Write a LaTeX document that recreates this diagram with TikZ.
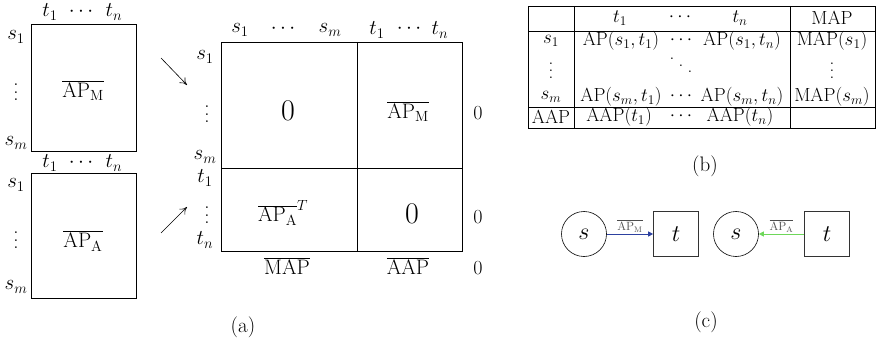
\RequirePackage{fix-cm}
\documentclass[tikz,border=0pt]{standalone}
\usepackage{fontspec}
\usetikzlibrary{arrows.meta}
\newcommand{\fs}[1]{\fontsize{#1}{#1}\selectfont}
\newcommand{\apm}{\overline{\mathrm{AP}_\mathrm{M}}}
\newcommand{\apa}{\overline{\mathrm{AP}_\mathrm{A}}}
\newcommand{\myvdots}{\vbox{\normalbaselines\baselineskip0.38em\lineskiplimit0pt\kern0.3em\hbox{.}\hbox{.}\hbox{.}}}
\newcommand{\myddots}{\mathinner{\mkern1mu\raise0.75em\hbox{.}\mkern4mu\raise0.4em\hbox{.}\mkern4mu\raise0.05em\hbox{.}\mkern1mu}}
\tikzset{
  lbl/.style={inner sep=0pt, font=\fs{21}},
  big/.style={inner sep=0pt, font=\fs{30}},
  tbl/.style={inner sep=0pt, font=\fs{19}},
  captext/.style={inner sep=0pt, font={\rmfamily\fs{21}}},
  frame/.style={draw=black, line width=0.8pt},
  tline/.style={draw=black, line width=0.6pt},
}
\begin{document}
\begin{tikzpicture}[x=1pt,y=-1pt]
\useasboundingbox (0,0) rectangle (879,345);
% ---------------- (a) left top box
\draw[frame] (31,24) rectangle (136,151);
\node[lbl] (ta1) at (50,12) {$t_1$};
\node[lbl] (tad) at (81,12) {$\cdots$};
\node[lbl] (tan) at (114,12) {$t_n$};
\node[lbl] (sa1) at (16,37) {$s_1$};
\node[lbl] (sad) at (16,89) {\myvdots};
\node[lbl] (sam) at (16,143) {$s_m$};
\node[lbl] (apmL) at (83,91) {$\apm$};
\node[lbl] (tb1) at (50,163) {$t_1$};
\node[lbl] (tbd) at (81,163) {$\cdots$};
\node[lbl] (tbn) at (114,163) {$t_n$};
% left bottom box
\draw[frame] (31,173) rectangle (136,298);
\node[lbl] (sb1) at (16,185) {$s_1$};
\node[lbl] (sbd) at (16,237) {\myvdots};
\node[lbl] (sbm) at (16,287) {$s_m$};
\node[lbl] (apaL) at (83,241) {$\apa$};
% arrows
\coordinate (a1s) at (161,58);
\coordinate (a1e) at (187,85);
\coordinate (a2s) at (161,233);
\coordinate (a2e) at (187,207);
\draw[-{To[length=7pt,width=8pt]}, line width=0.6pt] (a1s) -- (a1e);
\draw[-{To[length=7pt,width=8pt]}, line width=0.6pt] (a2s) -- (a2e);
% big matrix
\draw[frame] (221,42) rectangle (462,251);
\draw[frame] (357,42) -- (357,251);
\draw[frame] (221,168) -- (462,168);
\node[lbl] (ms1) at (240,30) {$s_1$};
\node[lbl] (msd) at (283,29) {$\cdots$};
\node[lbl] (msm) at (330,30) {$s_m$};
\node[lbl] (mt1) at (377,30) {$t_1$};
\node[lbl] (mtd) at (409,29) {$\cdots$};
\node[lbl] (mtn) at (440,30) {$t_n$};
\node[lbl] (ls1) at (205,57) {$s_1$};
\node[lbl] (lsd) at (207,111) {\myvdots};
\node[lbl] (lsm) at (205,157) {$s_m$};
\node[lbl] (lt1) at (205,178) {$t_1$};
\node[lbl] (ltd) at (207,212) {\myvdots};
\node[lbl] (ltn) at (205,240) {$t_n$};
\node[big] (z1) at (288,111) {$0$};
\node[lbl] (apmB) at (408,112) {$\apm$};
\node[lbl] (apaB) at (283,213) {$\apa^{T}$};
\node[big] (z2) at (412,214) {$0$};
\node[lbl, font=\fs{20}] (r1) at (478,113) {$0$};
\node[lbl, font=\fs{20}] (r2) at (478,217) {$0$};
\node[lbl, font=\fs{20}] (r3) at (478,268) {$0$};
\node[lbl] (mapB) at (287,266) {$\overline{\mathrm{MAP}}$};
\node[lbl] (aapB) at (408,266) {$\overline{\mathrm{AAP}}$};
\node[captext] (capa) at (243,327) {(a)};
% ---------------- (b) table
\draw[tline] (528,6) rectangle (875,128);
\draw[tline] (528,31) -- (875,31);
\draw[tline] (528,107) -- (875,107);
\draw[tline] (574,6) -- (574,128);
\draw[tline] (790,6) -- (790,128);
\node[tbl] (h1) at (620,18) {$t_1$};
\node[tbl] (hd) at (680,17) {$\cdots$};
\node[tbl] (hn) at (740,18) {$t_n$};
\node[tbl] (hm) at (832,18) {MAP};
\node[tbl] (r1c0) at (551,41) {$s_1$};
\node[tbl] (r1c1) at (621,41) {$\mathrm{AP}(s_1,t_1)$};
\node[tbl] (r1c2) at (681,40) {$\cdots$};
\node[tbl] (r1c3) at (742,41) {$\mathrm{AP}(s_1,t_n)$};
\node[tbl] (r1c4) at (832,41) {$\mathrm{MAP}(s_1)$};
\node[tbl] (r2c0) at (551,68) {\myvdots};
\node[tbl] (r2c2) at (681,66) {$\myddots$};
\node[tbl] (r2c4) at (832,68) {\myvdots};
\node[tbl] (r3c0) at (551,97) {$s_m$};
\node[tbl] (r3c1) at (621,97) {$\mathrm{AP}(s_m,t_1)$};
\node[tbl] (r3c2) at (681,96) {$\cdots$};
\node[tbl] (r3c3) at (742,97) {$\mathrm{AP}(s_m,t_n)$};
\node[tbl] (r3c4) at (832,97) {$\mathrm{MAP}(s_m)$};
\node[tbl] (r4c0) at (551,117) {AAP};
\node[tbl] (r4c1) at (619,117) {$\mathrm{AAP}(t_1)$};
\node[tbl] (r4c2) at (681,116) {$\cdots$};
\node[tbl] (r4c3) at (740,117) {$\mathrm{AAP}(t_n)$};
\node[captext] (capb) at (705,166) {(b)};
% ---------------- (c)
\node[draw, circle, minimum size=45pt, inner sep=0pt, line width=0.6pt, font=\fs{24}] (cs1) at (584,234) {$s$};
\node[draw, rectangle, minimum size=45pt, inner sep=0pt, line width=0.7pt, draw=black!80, font=\fs{24}] (ct1) at (676,234) {$t$};
\node[draw, circle, minimum size=45pt, inner sep=0pt, line width=0.6pt, font=\fs{24}] (cs2) at (736,234) {$s$};
\node[draw, rectangle, minimum size=45pt, inner sep=0pt, line width=0.7pt, draw=black!80, font=\fs{24}] (ct2) at (827,234) {$t$};
\draw[-{Triangle[length=5pt,width=5pt]}, line width=1pt, draw={rgb,255:red,45;green,65;blue,160}, fill={rgb,255:red,45;green,65;blue,160}] (cs1) -- node[above=1.5pt, inner sep=0pt, font=\fs{12}, text=black!70] (lm) {$\apm$} (ct1);
\draw[-{Triangle[length=5pt,width=5pt]}, line width=1pt, draw={rgb,255:red,110;green,215;blue,90}, fill={rgb,255:red,110;green,215;blue,90}] (ct2) -- node[above=1.5pt, inner sep=0pt, font=\fs{12}, text=black!70] (la) {$\apa$} (cs2);
\node[captext] (capc) at (706,322) {(c)};
\end{tikzpicture}
\end{document}
